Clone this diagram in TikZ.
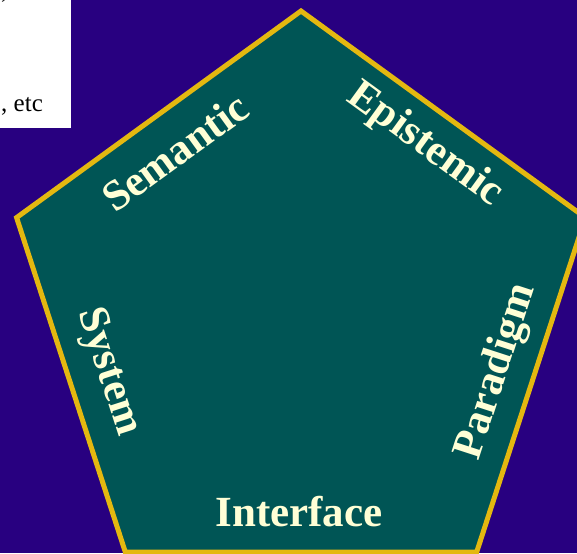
\documentclass[tikz,border=0pt]{standalone}
\usepackage{fontspec}
\setmainfont{Liberation Serif}
\definecolor{bgblue}{RGB}{40,0,128}
\definecolor{penta}{RGB}{0,85,85}
\definecolor{gold}{RGB}{228,184,16}
\definecolor{cream}{RGB}{255,255,214}
\begin{document}
\begin{tikzpicture}[x=1pt,y=1pt,
  lbl/.style={text=cream,font=\fontsize{43}{50}\selectfont\bfseries,inner sep=0pt},
  note/.style={text=black,font=\fontsize{25}{29}\selectfont,inner sep=0pt,anchor=base west}]
\useasboundingbox (0,0) rectangle (577,553);
\clip (0,0) rectangle (577,553);
\fill[bgblue] (0,0) rectangle (577,553);
% white box
\fill[white] (0,425) rectangle (71,553);
\node[note] (etc) at (1,441) {, etc};
\node[note] (top) at (1,554) {,};
% pentagon
\draw[gold,line width=5pt,fill=penta,line join=miter]
  (301,542) -- (16.6,335.4) -- (125.3,1) -- (476.7,1) -- (585.4,335.4) -- cycle;
\node[lbl,rotate=36] (sem) at (175,401) {Semantic};
\node[lbl,rotate=-36] (epi) at (425,408) {Epistemic};
\node[lbl,rotate=-72] (sys) at (108,181) {System};
\node[lbl,rotate=72] (par) at (497,181) {Paradigm};
\node[lbl] (int) at (299,41) {Interface};
\end{tikzpicture}
\end{document}
